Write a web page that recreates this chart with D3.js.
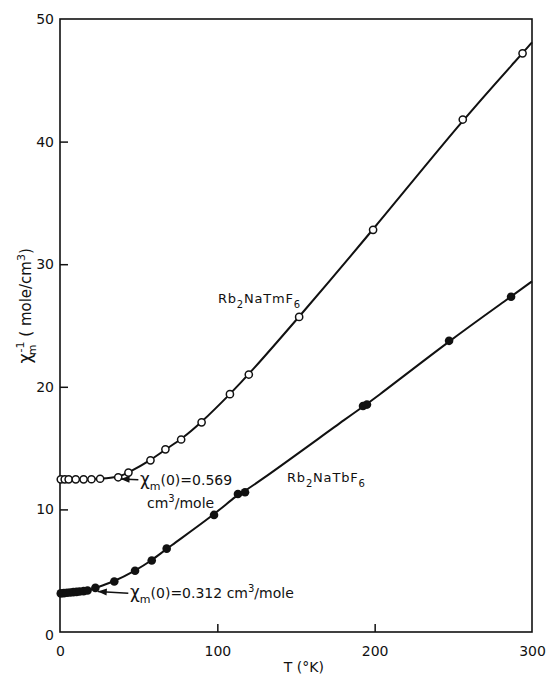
<!DOCTYPE html>
<html>
<head>
<meta charset="utf-8">
<script src="https://cdn.jsdelivr.net/npm/d3@7/dist/d3.min.js"></script>
<style>
  body { margin: 0; background: #fff; }
  text { font-family: "DejaVu Sans", sans-serif; fill: #111; }
</style>
</head>
<body>
<script>
// Rb2NaTmF6 (open circles)
const tmTemp = [0.5, 3, 5.5, 10, 15, 20, 25.5, 37, 43.5, 57.5, 67, 77, 90, 108, 120, 152, 199, 256, 294];
const tmChi  = [12.45, 12.45, 12.45, 12.45, 12.45, 12.46, 12.5, 12.62, 13.0, 14.0, 14.9, 15.7, 17.1, 19.4, 21.0, 25.7, 32.8, 41.8, 47.2];
const tmLineEnd = [300, 48.1];

// Rb2NaTbF6 (filled circles)
const tbTemp = [0.5, 2.5, 4.5, 6.5, 8.5, 10.5, 12.5, 15, 17.5, 22.5, 34.5, 47.7, 58.3, 67.8, 97.9, 113.1, 117.6, 192.6, 195.1, 247.3, 286.7];
const tbChi  = [3.15, 3.17, 3.2, 3.22, 3.25, 3.27, 3.3, 3.33, 3.38, 3.6, 4.12, 5.0, 5.83, 6.8, 9.55, 11.26, 11.4, 18.43, 18.55, 23.75, 27.35];
const tbLineEnd = [300, 28.6];

const xTicks = [0, 100, 200, 300];
const yTicks = [0, 10, 20, 30, 40, 50];

let margin = {top: 19, right: 17, bottom: 43, left: 60}
  , width = 549 - margin.left - margin.right
  , height = 675 - margin.top - margin.bottom;

let svg = d3.select("body").append("svg")
  .attr("width", 549)
  .attr("height", 675)
  .append("g")
  .attr("transform", "translate(" + margin.left + "," + margin.top + ")");

let x = d3.scaleLinear().domain([0, 300]).range([0, width]);
let y = d3.scaleLinear().domain([0, 50]).range([height, 0]);

// frame
svg.append("rect")
  .attr("width", width).attr("height", height)
  .attr("fill", "none").attr("stroke", "#111").attr("stroke-width", 1.6);

// axes, ticks pointing inward
let xAxis = svg.append("g")
  .attr("transform", "translate(0," + height + ")")
  .call(d3.axisBottom(x).tickValues(xTicks).tickSize(-8).tickPadding(14).tickFormat(d3.format("d")));
let yAxis = svg.append("g")
  .call(d3.axisLeft(y).tickValues(yTicks).tickSize(-8).tickPadding(6).tickFormat(d3.format("d")));

[xAxis, yAxis].forEach(a => {
  a.select(".domain").remove();
  a.selectAll("line").attr("stroke", "#111").attr("stroke-width", 1.5);
  a.selectAll("text").style("font-size", "14px").style("font-family", "DejaVu Sans").attr("fill", "#111");
});
// no tick marks at the corners
xAxis.selectAll(".tick").filter(d => d === 0 || d === 300).select("line").remove();
yAxis.selectAll(".tick").filter(d => d === 0 || d === 50).select("line").remove();
yAxis.selectAll(".tick").filter(d => d === 0).select("text").attr("dy", "0.5em");

// curves
let line = d3.line()
  .x(d => x(d[0]))
  .y(d => y(d[1]))
  .curve(d3.curveBasis);

let tmData = tmTemp.map((t, i) => [t, tmChi[i]]);
let tbData = tbTemp.map((t, i) => [t, tbChi[i]]);

svg.append("path")
  .datum([[0, tmChi[0]]].concat(tmData, [tmLineEnd]))
  .attr("fill", "none").attr("stroke", "#111").attr("stroke-width", 2)
  .attr("d", line);
svg.append("path")
  .datum([[0, tbChi[0]]].concat(tbData, [tbLineEnd]))
  .attr("fill", "none").attr("stroke", "#111").attr("stroke-width", 2)
  .attr("d", line);

// points
svg.selectAll(".tm")
  .data(tmData)
  .enter().append("circle")
  .attr("class", "tm")
  .attr("cx", d => x(d[0]))
  .attr("cy", d => y(d[1]))
  .attr("r", 3.6)
  .attr("fill", "#fff").attr("stroke", "#111").attr("stroke-width", 1.5);

svg.selectAll(".tb")
  .data(tbData)
  .enter().append("circle")
  .attr("class", "tb")
  .attr("cx", d => x(d[0]))
  .attr("cy", d => y(d[1]))
  .attr("r", 4.3)
  .attr("fill", "#111");

// series labels: [text, dy, is subscript]
function formula(tx, ty, parts) {
  let t = svg.append("text").attr("x", x(tx)).attr("y", y(ty))
    .style("font-size", "13px").style("letter-spacing", "0.8px");
  parts.forEach(p => {
    t.append("tspan").text(p[0])
      .attr("dy", p[1])
      .style("font-size", p[2] ? "10px" : "13px");
  });
  return t;
}
formula(100.4, 26.8, [["Rb", 0, false], ["2", 5, true], ["NaTmF", -5, false], ["6", 5, true]]);
formula(144.3, 12.2, [["Rb", 0, false], ["2", 5, true], ["NaTbF", -5, false], ["6", 5, true]]);

// annotations with arrows
function arrow(t0, c0, t1, c1) {
  let x0 = x(t0), y0 = y(c0), x1 = x(t1), y1 = y(c1);
  svg.append("line")
    .attr("x1", x0).attr("y1", y0).attr("x2", x1).attr("y2", y1)
    .attr("stroke", "#111").attr("stroke-width", 1.5);
  let ang = Math.atan2(y1 - y0, x1 - x0);
  let L = 9, W = 3.5;
  let bx = x1 - L * Math.cos(ang), by = y1 - L * Math.sin(ang);
  let px = -Math.sin(ang) * W, py = Math.cos(ang) * W;
  svg.append("path")
    .attr("d", "M" + x1 + "," + y1 + "L" + (bx + px) + "," + (by + py) + "L" + (bx - px) + "," + (by - py) + "Z")
    .attr("fill", "#111");
}

function chiLabel(tx, ty, rest) {
  let t = svg.append("text").attr("x", x(tx)).attr("y", y(ty)).style("font-size", "14px");
  t.append("tspan").text("χ").style("font-size", "17px");
  t.append("tspan").text("m").attr("dy", 5).style("font-size", "11px");
  t.append("tspan").text("(0)=" + rest[0]).attr("dy", -5);
  if (rest.length > 1) {
    t.append("tspan").text(rest[1]);
    t.append("tspan").text("3").attr("dy", -6).style("font-size", "10px");
    t.append("tspan").text("/mole").attr("dy", 6);
  }
}

arrow(49.8, 12.42, 38.5, 12.48);
chiLabel(50.8, 12.0, ["0.569"]);
let c2 = svg.append("text").attr("x", x(55.3)).attr("y", y(10.1)).style("font-size", "14px");
c2.append("tspan").text("cm");
c2.append("tspan").text("3").attr("dy", -6).style("font-size", "10px");
c2.append("tspan").text("/mole").attr("dy", 6);

arrow(43.4, 3.16, 24.0, 3.3);
chiLabel(44.5, 2.8, ["0.312", "  cm"]);

// axis titles
svg.append("text")
  .attr("x", x(155)).attr("y", height + 40)
  .attr("text-anchor", "middle")
  .style("font-size", "14px")
  .text("T (°K)");

let yl = svg.append("text")
  .attr("transform", "translate(" + (-29) + "," + y(26.6) + ") rotate(-90)")
  .attr("text-anchor", "middle")
  .style("font-size", "15px");
yl.append("tspan").text("χ").style("font-size", "18px");
yl.append("tspan").text("m").attr("dy", 5).attr("dx", -2).style("font-size", "11px");
yl.append("tspan").text("-1").attr("dy", -12).attr("dx", -8).style("font-size", "11px");
yl.append("tspan").text(" ( mole/cm").attr("dy", 7);
yl.append("tspan").text("3").attr("dy", -6).style("font-size", "11px");
yl.append("tspan").text(")").attr("dy", 6);
</script>
</body>
</html>
